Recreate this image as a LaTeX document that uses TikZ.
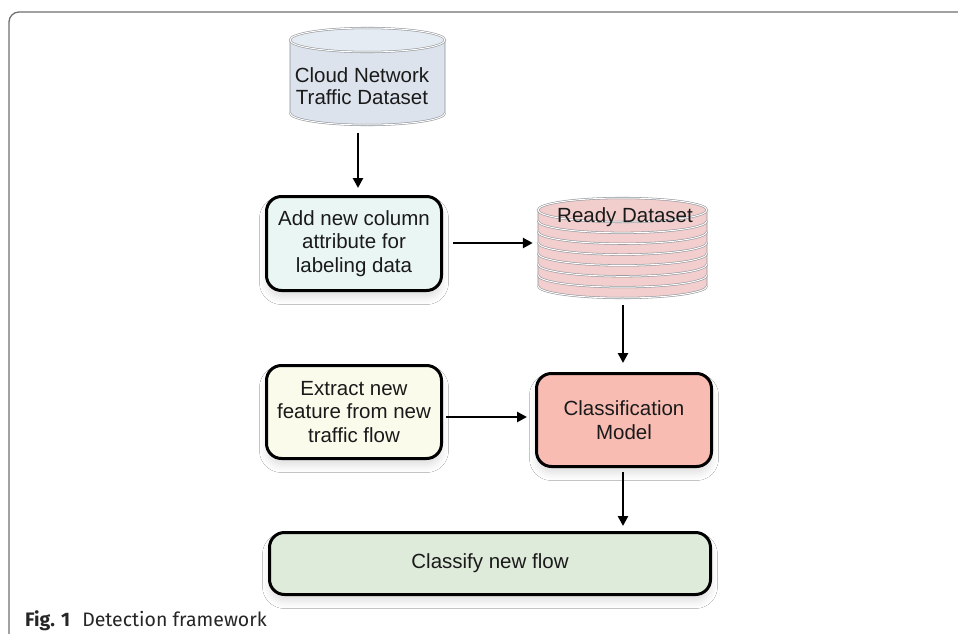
\documentclass[tikz,border=0pt]{standalone}
\usepackage{fontspec}
\setmainfont{Liberation Sans}
\newfontfamily\capfont{Fira Sans}
\usetikzlibrary{arrows.meta,calc,shadows.blur}

\definecolor{framec}{HTML}{707070}
\definecolor{cloudbody}{HTML}{DCE3EC}
\definecolor{cloudtop}{HTML}{E5EBF2}
\definecolor{cylline}{HTML}{8C9096}
\definecolor{readybody}{HTML}{F2CFCE}
\definecolor{readytop}{HTML}{F1CDCC}
\definecolor{addc}{HTML}{EAF6F3}
\definecolor{extc}{HTML}{FBFBEC}
\definecolor{clsc}{HTML}{F8BCB2}
\definecolor{newc}{HTML}{DFEBDA}
\definecolor{captext}{HTML}{262626}
\definecolor{boxtext}{HTML}{1A1A1A}

\tikzset{
  box/.style={draw=black, line width=3pt, rounded corners=15pt, align=center,
    font=\fontsize{20.5}{23.5}\selectfont, text=boxtext, inner sep=0pt,
    blur shadow={shadow xshift=0pt, shadow yshift=-7pt, shadow blur radius=7pt, shadow opacity=12}},
  cylbody/.style={inner sep=0pt},
  cyltext/.style={font=\fontsize{20.5}{22}\selectfont, text=boxtext, align=center, inner sep=0pt},
  cylside/.style={draw=cylline, line width=0.6pt},
  cylrim/.style={draw=cylline, double=white, double distance=1pt, line width=0.55pt},
  arr/.style={line width=2.6pt, -{Triangle[length=10pt,width=10pt]}},
}

\begin{document}
\begin{tikzpicture}[x=1pt,y=-1pt]
\useasboundingbox (0,0) rectangle (958,634);
\fill[white] (0,0) rectangle (958,634);

% figure frame (open to the right and bottom)
\draw[framec, line width=1.3pt, rounded corners=10pt] (9,650) -- (9,12) -- (975,12);

% ---- cylinder: Cloud Network Traffic Dataset ----
\path[cylside, fill=cloudbody] (290,40) -- (290,113)
  arc[start angle=180, end angle=360, x radius=77.5pt, y radius=12pt] -- (445,40) -- cycle;
\draw[cylrim] (290,113) arc[start angle=180, end angle=360, x radius=77.5pt, y radius=12pt];
\draw[cylrim, fill=cloudtop] (367.5,40) ellipse[x radius=77.5pt, y radius=12pt];
\node[cylbody, minimum width=155pt, minimum height=97pt] (cloud) at (367.5,76.5) {};
\node[cyltext] (cloudtext) at (362,86) {Cloud Network\\Traffic Dataset};

% ---- stacked cylinder: Ready Dataset ----
\foreach \k in {7,6,...,1} {
  \pgfmathsetmacro\yt{210+(\k-1)*76/7}
  \pgfmathsetmacro\yb{210+\k*76/7}
  \path[cylside, fill=readybody] (538,\yt) -- (538,\yb)
    arc[start angle=180, end angle=360, x radius=84.5pt, y radius=12pt] -- (707,\yt) -- cycle;
  \draw[cylrim] (538,\yb) arc[start angle=180, end angle=360, x radius=84.5pt, y radius=12pt];
}
\draw[cylrim, fill=readytop] (622.5,210) ellipse[x radius=84.5pt, y radius=12pt];
\node[cylbody, minimum width=169pt, minimum height=100pt] (ready) at (622.5,248) {};
\node[cyltext, anchor=base] (readytext) at (625,222) {Ready Dataset};

% ---- process boxes ----
\node[box, fill=addc, minimum width=175pt, minimum height=94pt] (add) at (354,243.5)
  {Add new column\\attribute for\\labeling data};
\node[box, fill=extc, minimum width=175pt, minimum height=93pt] (ext) at (354,412)
  {Extract new\\feature from new\\traffic flow};
\node[box, fill=clsc, minimum width=175pt, minimum height=93pt] (cls) at (624,420)
  {Classification\\Model};
\node[box, fill=newc, minimum width=441pt, minimum height=62pt] (new) at (490,563.5)
  {Classify new flow};

% ---- connectors ----
\draw[arr] ($(cloud.south)+(-9.5,8)$) -- ($(add.north)+(4,-7)$);
\draw[arr] ($(add.east)+(10,-0.5)$) -- ($(ready.west)+(-5,-5)$);
\draw[arr] ($(ready.south)+(0.5,7)$) -- ($(cls.north)+(-1,-9)$);
\draw[arr] ($(ext.east)+(3,5)$) -- ($(cls.west)+(-8,-3)$);
\draw[arr] ($(cls.south)+(-1,4)$) -- ($(cls.south |- new.north)+(-1,-5)$);

% ---- caption ----
\node[anchor=base west, inner sep=0pt, text=captext, font=\capfont\fontsize{19.5}{21}\selectfont] (caption)
  at (25,626) {{\bfseries Fig. 1}\hspace{12pt}Detection framework};
\end{tikzpicture}
\end{document}
